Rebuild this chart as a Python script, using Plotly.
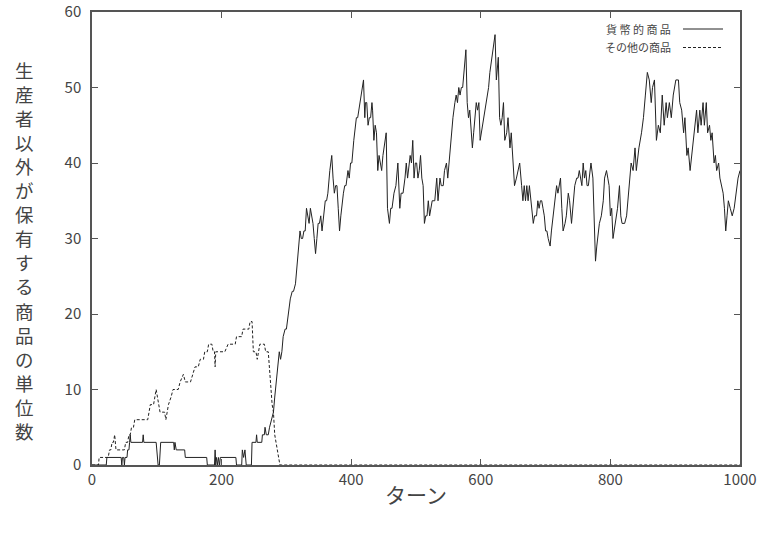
import plotly.graph_objects as go

# 貨幣的商品: (turn, units held by non-producers)
money_turn = [0, 22, 23, 45, 46, 47, 49, 50, 51, 54, 55, 57, 58, 59, 60, 78, 79, 80, 99, 100, 102, 104, 105, 106,
              126, 127, 128, 130, 143, 144, 177, 178, 189, 190, 191, 192, 194, 195, 197, 198, 222, 223, 231, 232,
              234, 235, 236, 238, 246, 247, 253, 254, 255, 262, 263, 266, 267, 269, 272, 274, 277, 280, 282, 285,
              287, 289, 291, 293, 295, 298, 300, 303, 306, 309, 311, 314, 316, 318, 321, 323, 325, 327, 329, 331,
              333, 335, 337, 339, 341, 343, 345, 347, 349, 351, 353, 355, 357, 358, 360, 362, 364, 367, 370, 372,
              374, 376, 378, 380, 382, 384, 386, 388, 390, 392, 395, 397, 399, 401, 404, 406, 408, 410, 412, 415,
              419, 421, 422, 424, 426, 428, 430, 432, 433, 435, 437, 439, 441, 443, 445, 447, 449, 451, 454, 456,
              458, 459, 461, 463, 466, 469, 472, 474, 475, 477, 480, 483, 485, 487, 489, 491, 493, 495, 497, 499,
              501, 503, 505, 507, 509, 511, 513, 515, 517, 519, 521, 523, 525, 529, 532, 534, 537, 539, 542, 544,
              547, 549, 551, 553, 557, 560, 562, 564, 566, 568, 570, 572, 574, 577, 579, 581, 583, 585, 587, 589,
              591, 593, 595, 597, 599, 601, 603, 606, 609, 612, 614, 617, 619, 622, 624, 627, 629, 631, 633, 635,
              637, 640, 642, 645, 647, 650, 652, 655, 658, 660, 663, 665, 667, 669, 671, 673, 675, 677, 679, 681,
              683, 686, 688, 690, 692, 694, 696, 698, 700, 702, 704, 707, 709, 712, 714, 717, 719, 721, 723, 725,
              727, 730, 732, 735, 737, 740, 743, 745, 748, 750, 752, 754, 756, 758, 760, 762, 764, 766, 768, 770,
              773, 775, 777, 779, 781, 783, 786, 789, 791, 794, 796, 798, 800, 802, 804, 806, 808, 811, 814, 816,
              818, 822, 825, 829, 832, 835, 838, 840, 844, 848, 851, 854, 857, 860, 863, 865, 868, 871, 874, 877,
              880, 883, 886, 888, 891, 894, 897, 901, 905, 907, 910, 913, 915, 918, 920, 923, 927, 930, 933, 935,
              938, 940, 943, 945, 948, 950, 953, 955, 957, 960, 962, 964, 967, 969, 972, 974, 976, 978, 980, 982,
              985, 988, 991, 994, 997, 1000]
money_units = [0, 0, 1, 1, 0, 1, 1, 0, 1, 1, 2, 2, 3, 4, 3, 3, 4, 3, 3, 2, 0, 0, 2, 3,
               3, 2, 3, 2, 2, 1, 1, 0, 0, 2, 0, 1, 0, 1, 0, 1, 1, 0, 0, 2,
               1, 2, 2, 0, 0, 3, 3, 4, 3, 3, 4, 4, 5, 4, 4, 5, 6, 7, 9, 12,
               14, 15, 14, 15, 17, 18, 18, 20, 22, 23, 23, 24, 26, 28, 31, 30, 30, 31, 31, 34,
               33, 32, 34, 33, 32, 30, 28, 30, 32, 32, 33, 31, 33, 34, 35, 35, 36, 39, 41, 38,
               36, 37, 37, 34, 31, 33, 35, 36, 37, 37, 39, 38, 40, 40, 43, 45, 46, 46, 47, 49,
               51, 46, 48, 48, 45, 46, 46, 48, 47, 43, 45, 44, 39, 41, 40, 39, 41, 42, 44, 34,
               33, 32, 34, 34, 36, 37, 40, 36, 34, 36, 36, 38, 40, 38, 40, 41, 40, 43, 38, 40,
               40, 38, 39, 41, 38, 37, 32, 33, 33, 35, 33, 34, 35, 35, 38, 35, 38, 37, 37, 39,
               40, 38, 40, 43, 46, 48, 49, 48, 50, 49, 50, 50, 52, 55, 48, 46, 47, 45, 42, 44,
               46, 48, 47, 48, 43, 44, 45, 47, 48, 50, 52, 54, 55, 57, 51, 54, 46, 45, 46, 48,
               43, 44, 46, 42, 44, 40, 37, 38, 39, 40, 37, 35, 37, 35, 37, 35, 37, 35, 34, 32,
               33, 33, 35, 34, 35, 35, 34, 33, 31, 31, 30, 29, 31, 33, 35, 37, 36, 37, 38, 34,
               31, 32, 33, 36, 35, 32, 35, 37, 38, 38, 39, 38, 37, 40, 38, 39, 37, 37, 39, 40,
               38, 33, 27, 29, 31, 32, 33, 35, 38, 39, 38, 37, 33, 34, 30, 31, 32, 34, 37, 33,
               32, 32, 33, 37, 40, 39, 42, 39, 42, 44, 46, 49, 52, 51, 48, 50, 51, 43, 45, 44,
               49, 45, 48, 46, 48, 46, 49, 51, 51, 48, 47, 44, 46, 41, 42, 39, 42, 45, 47, 44,
               47, 45, 48, 45, 48, 44, 45, 43, 44, 40, 41, 39, 40, 38, 37, 36, 34, 31, 33, 35,
               34, 33, 34, 36, 38, 39]

# その他の商品
other_turn = [0, 10, 11, 25, 27, 29, 31, 33, 35, 36, 37, 50, 52, 55, 57, 59, 61, 64, 66, 86, 88, 90, 95, 97,
              99, 101, 103, 105, 112, 114, 116, 118, 122, 125, 133, 136, 141, 144, 152, 156, 159, 164, 167, 172,
              174, 178, 180, 185, 187, 189, 190, 191, 203, 205, 210, 221, 223, 231, 233, 242, 244, 247, 249, 253,
              255, 257, 259, 266, 268, 272, 275, 278, 280, 282, 284, 286, 288, 290, 1000]
other_units = [0, 0, 1, 1, 2, 2, 3, 3, 4, 3, 2, 2, 3, 3, 4, 4, 5, 5, 6, 6, 7, 8, 8, 9,
               10, 9, 8, 7, 7, 6, 7, 8, 9, 10, 10, 11, 12, 11, 11, 12, 13, 13, 14, 14,
               15, 15, 16, 16, 15, 15, 13, 15, 15, 15, 16, 16, 17, 17, 18, 18, 19, 19, 15, 15,
               14, 15, 16, 16, 15, 15, 11, 8, 7, 4, 3, 2, 1, 0, 0]

x_ticks = [0, 200, 400, 600, 800, 1000]
y_ticks = [0, 10, 20, 30, 40, 50, 60]
series_names = ["貨幣的商品", "その他の商品"]
x_title = "ターン"
y_title = "生産者以外が保有する商品の単位数"

FONT = "Noto Sans CJK JP"
INK = "#222222"
TEXT = "#444444"

fig = go.Figure()
fig.add_trace(go.Scatter(x=money_turn, y=money_units, mode="lines", name=series_names[0],
                         line=dict(color=INK, width=1)))
fig.add_trace(go.Scatter(x=other_turn, y=other_units, mode="lines", name=series_names[1],
                         line=dict(color=INK, width=1, dash="3px,2px")))

axis_common = dict(showgrid=False, zeroline=False, showline=True, linecolor="#555555", linewidth=1.5,
                   mirror="ticks", ticks="inside", ticklen=6, tickcolor="#555555", tickwidth=1,
                   automargin=False, tickfont=dict(family=FONT, size=15, color=TEXT))

fig.update_layout(
    width=769, height=535,
    margin=dict(l=92, r=29, t=12, b=70),
    paper_bgcolor="white", plot_bgcolor="white",
    showlegend=False,
    xaxis=dict(range=[0, 1000], tickvals=x_ticks, ticklabelstandoff=0, **axis_common),
    yaxis=dict(range=[0, 60], tickvals=y_ticks, ticklabelstandoff=6, **axis_common),
)

# x-axis title
fig.add_annotation(text=x_title, xref="paper", yref="paper", x=0.5, y=-0.064, yanchor="middle",
                   showarrow=False, font=dict(family=FONT, size=21, color=TEXT))

# y-axis title, written vertically one character per row
fig.add_annotation(text="<br>".join(y_title), xref="paper", yref="paper",
                   x=(24 - 92) / 648, y=(465 - 250.5) / 453,
                   xanchor="center", yanchor="middle", align="center", showarrow=False,
                   font=dict(family=FONT, size=18.5, color=TEXT))

# legend drawn in the upper right, sample line to the right of the label
legend_rows = [(series_names[0].replace("", " ").strip(), "solid", 29),
               (series_names[1], "3px,2px", 47.5)]
for label, dash, py in legend_rows:
    yp = (465 - py) / 453
    fig.add_annotation(text=label, xref="paper", yref="paper", x=(673 - 92) / 648, y=yp,
                       xanchor="right", yanchor="middle", showarrow=False,
                       font=dict(family=FONT, size=11, color=TEXT))
    fig.add_shape(type="line", xref="paper", yref="paper",
                  x0=(683 - 92) / 648, x1=(723 - 92) / 648, y0=yp, y1=yp,
                  line=dict(color=INK, width=1, dash=dash))

fig.write_html("out.html")
